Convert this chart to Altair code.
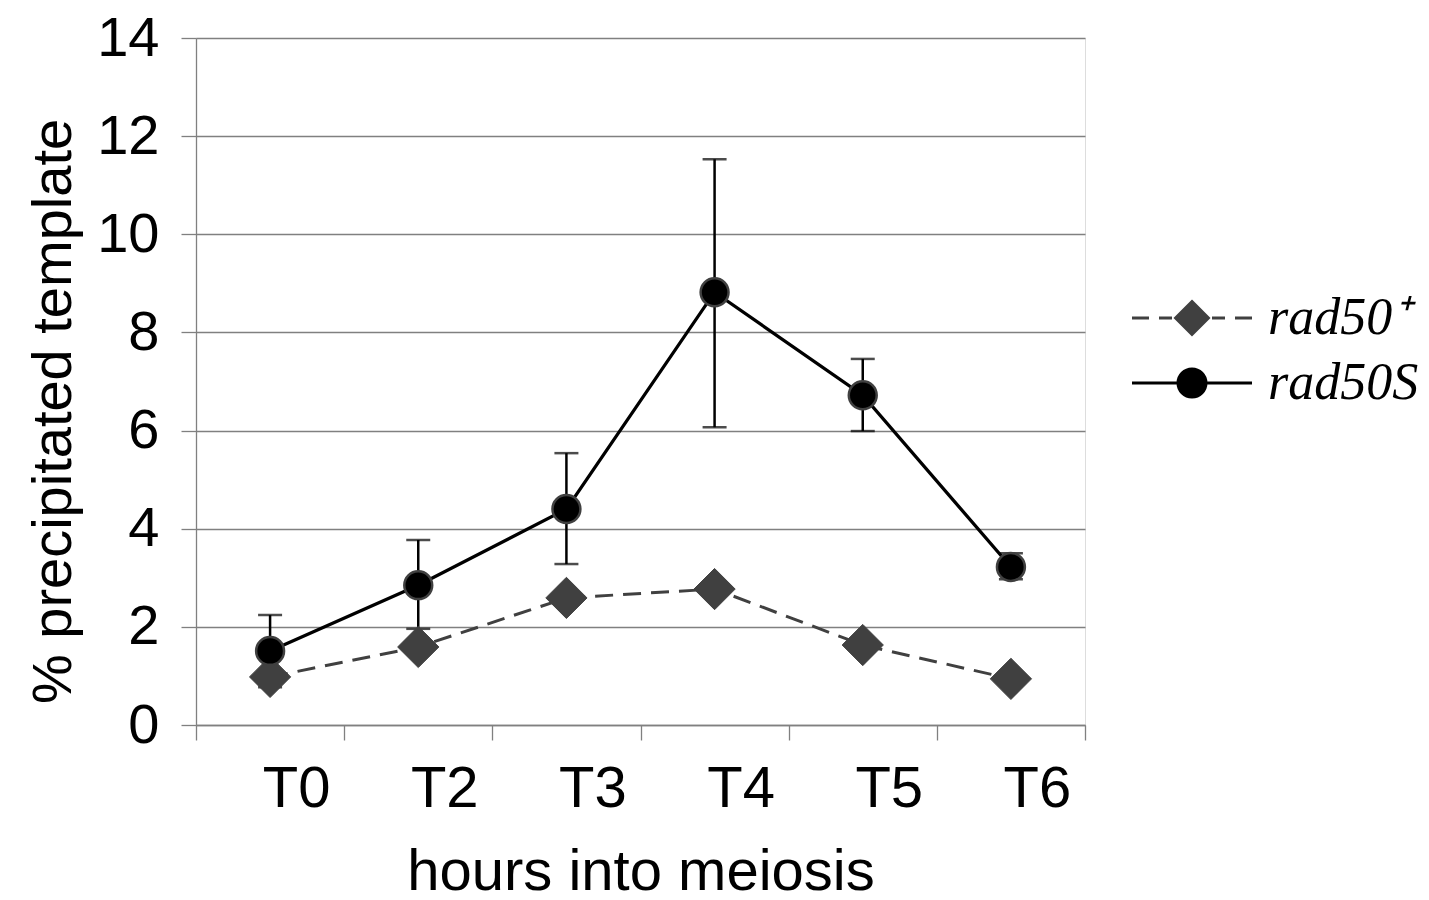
import altair as alt
import pandas as pd

timepoints = ["T0", "T2", "T3", "T4", "T5", "T6"]
series_names = ["rad50\u207a", "rad50S"]
rad50_plus = [0.98, 1.59, 2.59, 2.77, 1.63, 0.94]
rad50_S = [1.51, 2.85, 4.40, 8.82, 6.72, 3.22]
rad50_S_upper = [2.24, 3.77, 5.54, 11.53, 7.46, 3.50]
rad50_S_lower = [0.77, 1.96, 3.28, 6.07, 5.99, 2.97]

rows = []
for i, t in enumerate(timepoints):
    rows.append({"t": t, "series": series_names[0], "v": rad50_plus[i], "lo": None, "hi": None})
    rows.append({"t": t, "series": series_names[1], "v": rad50_S[i],
                 "lo": rad50_S_lower[i], "hi": rad50_S_upper[i]})
df = pd.DataFrame(rows)

FONT = "Liberation Sans"
GRID = "#808080"
PLUS_COL = "#404040"

# legend glyphs (line + marker) as custom symbol paths in the unit square
PATH_PLUS = "M-3,0H-2.15M-1.65,0H-1M1,0H1.65M2.15,0H3M0,-0.82L0.82,0L0,0.82L-0.82,0Z"
PATH_S = "M-3,0H-0.7M0.7,0H3M0.7,0A0.7,0.7 0 1,1 -0.7,0A0.7,0.7 0 1,1 0.7,0Z"

X = alt.X("t:N", sort=timepoints)
y_scale = alt.Scale(domain=[0, 14], nice=False)

x_axis_enc = alt.X(
    "t:N", sort=timepoints,
    scale=alt.Scale(paddingInner=0, paddingOuter=0),
    axis=alt.Axis(title="hours into meiosis", tickBand="extent", tickSize=15,
                  tickColor=GRID, tickWidth=1.3, domainColor=GRID, domainWidth=1.3,
                  labelAngle=0, labelFont=FONT, labelFontSize=58, labelColor="black",
                  labelOffset=26, labelPadding=20, titleFont=FONT, titleFontSize=58,
                  titleFontWeight="normal", titleColor="black", titlePadding=25,
                  grid=False))
y_axis_enc = alt.Y(
    "v:Q", scale=y_scale,
    axis=alt.Axis(title="% precipitated template", values=[0, 2, 4, 6, 8, 10, 12, 14],
                  grid=True, gridColor=GRID, gridWidth=1.3, tickSize=15, tickColor=GRID,
                  tickWidth=1.3, domainColor=GRID, domainWidth=1.3,
                  labelFont=FONT, labelFontSize=56, labelColor="black", labelPadding=22,
                  titleFont=FONT, titleFontSize=56, titleFontWeight="normal",
                  titleColor="black", titlePadding=14, titleY=373))

base = alt.Chart(df)
plus_df = base.transform_filter(alt.datum.series == series_names[0])
s_df = base.transform_filter(alt.datum.series == series_names[1])

line_plus = plus_df.mark_line(strokeWidth=3, color=PLUS_COL, strokeDash=[18, 10]).encode(
    x=x_axis_enc, y=y_axis_enc)
line_S = s_df.mark_line(strokeWidth=3.3, color="black").encode(x=X, y=alt.Y("v:Q", scale=y_scale))

err_rule = s_df.mark_rule(color="black", strokeWidth=2.5).encode(
    x=X, y=alt.Y("lo:Q", scale=y_scale), y2="hi:Q")
err_top = s_df.mark_tick(color="black", thickness=2.5, size=24).encode(
    x=X, y=alt.Y("hi:Q", scale=y_scale))
err_bot = s_df.mark_tick(color="black", thickness=2.5, size=24).encode(
    x=X, y=alt.Y("lo:Q", scale=y_scale))

pts_plus = plus_df.mark_point(
    shape="diamond", filled=True, size=1700, fill=PLUS_COL, stroke=PLUS_COL, strokeWidth=1, opacity=1
).encode(x=X, y=alt.Y("v:Q", scale=y_scale))
pts_S = s_df.mark_point(
    shape="circle", filled=True, size=780, fill="black", stroke=PLUS_COL, strokeWidth=2.5, opacity=1
).encode(x=X, y=alt.Y("v:Q", scale=y_scale))


def legend_layer(name, path, col, ly):
    return base.transform_filter("false").mark_point(
        filled=False, fill=col, stroke=col, strokeWidth=3, opacity=1
    ).encode(
        shape=alt.Shape("series:N", scale=alt.Scale(domain=[name], range=[path]),
                        legend=alt.Legend(title=None, orient="none", legendX=970, legendY=ly,
                                          padding=0, symbolSize=1600, symbolStrokeWidth=3,
                                          symbolOpacity=1, labelOffset=50,
                                          labelFont="Liberation Serif", labelFontStyle="italic",
                                          labelFontSize=52, labelColor="black"))
    )


leg_plus = legend_layer(series_names[0], PATH_PLUS, PLUS_COL, 254)
leg_S = legend_layer(series_names[1], PATH_S, "black", 319)

chart = alt.layer(line_plus, line_S, err_rule, err_top, err_bot, pts_plus, pts_S,
                  leg_plus, leg_S).resolve_scale(shape="independent").properties(
    width=889, height=687,
    autosize=alt.AutoSizeParams(type="none"),
    padding={"left": 188, "top": 30, "right": 336, "bottom": 167},
).configure_view(stroke=None).configure(background="white")

chart.save("out.html", embed_options={"renderer": "svg", "actions": False})
